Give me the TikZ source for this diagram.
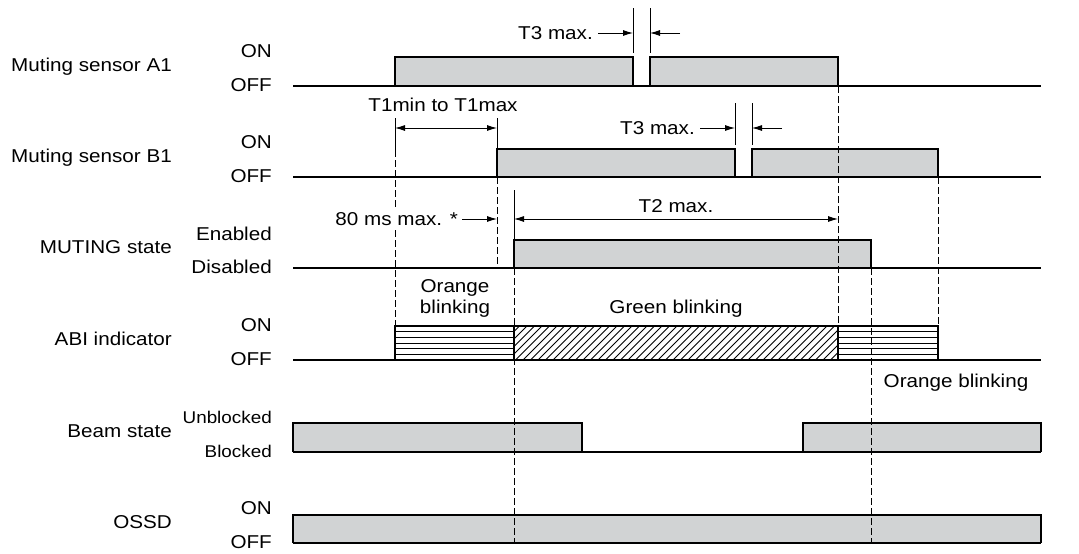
\documentclass[tikz,border=0pt]{standalone}
\usepackage{fontspec}
\setmainfont{Liberation Sans}[FakeStretch=1.11]
\usetikzlibrary{arrows.meta}
\definecolor{sig}{HTML}{D1D3D4}
\begin{document}
\begin{tikzpicture}[x=1pt,y=-1pt,
  pulse/.style={fill=sig,draw=black,line width=1.1pt},
  baseln/.style={line width=2.2pt},
  thin/.style={line width=1pt},
  guide/.style={line width=0.9pt,dash pattern=on 7pt off 3pt},
  dim/.style={line width=0.9pt,-{Latex[length=10pt,width=6pt]}},
  dimboth/.style={line width=0.9pt,{Latex[length=10pt,width=6pt]}-{Latex[length=10pt,width=6pt]}},
  lbl/.style={font=\fontsize{18.6}{21}\selectfont,inner sep=0pt},
  slbl/.style={font=\fontsize{17}{19}\selectfont,inner sep=0pt}]
\useasboundingbox (0,0) rectangle (1079,554);

% ---------- pulses ----------
\draw[pulse] (395,86) |- (633,57) -- (633,86);
\draw[pulse] (650,86) |- (838,57) -- (838,86);
\draw[pulse] (497,177) |- (735,149) -- (735,177);
\draw[pulse] (752,177) |- (938,149) -- (938,177);
\draw[pulse] (514,268) |- (871,240) -- (871,268);
\draw[pulse] (293,452) |- (582,423) -- (582,452);
\draw[pulse] (803,452) |- (1041,423) -- (1041,452);
\draw[pulse] (293,543) |- (1041,515) -- (1041,543);

% ---------- ABI indicator ----------
\begin{scope}
  \clip (514,326) rectangle (838,360);
  \foreach \i in {0,...,49} \draw[line width=0.8pt] (478+\i*7.5,360) -- ++(34,-34);
\end{scope}
\foreach \yy in {331.67,337.33,343,348.67,354.33} {
  \draw[thin] (395,\yy) -- (514,\yy);
  \draw[thin] (838,\yy) -- (938,\yy);
}
\draw[line width=1.1pt] (395,360) |- (938,326) -- (938,360);
\draw[line width=1.1pt] (514,326) -- (514,360) (838,326) -- (838,360);

% ---------- baselines ----------
\foreach \b in {86,177,268,360,452,543} \draw[baseln] (293,\b) -- (1041,\b);

% ---------- guides ----------
\draw[guide] (395,150) -- (395,326);
\draw[guide] (497,177) -- (497,268);
\draw[guide] (514,268) -- (514,543);
\draw[guide] (838,86) -- (838,326);
\draw[guide] (871,268) -- (871,543);
\draw[guide] (938,177) -- (938,326);

% ---------- extension lines ----------
\draw[thin] (633,8) -- (633,53) (650,8) -- (650,53);
\draw[thin] (735,103) -- (735,145) (752,103) -- (752,145);
\draw[thin] (395,118) -- (395,150) (497,118) -- (497,149);
\draw[thin] (514,190) -- (514,240);

% ---------- dimension arrows ----------
\coordinate (a3l) at (633,33); \coordinate (a3r) at (650,33);
\coordinate (b3l) at (735,128); \coordinate (b3r) at (752,128);
\coordinate (t1l) at (395,128); \coordinate (t1r) at (497,128);
\coordinate (ms) at (497,219);
\coordinate (t2l) at (514,219); \coordinate (t2r) at (838,219);
\draw[dim] (598,33) -- (a3l);
\draw[dim] (680,33) -- (a3r);
\draw[dim] (700,128) -- (b3l);
\draw[dim] (782,128) -- (b3r);
\draw[dimboth] (t1l) -- (t1r);
\draw[dim] (462,219) -- (ms);
\draw[dimboth] (t2l) -- (t2r);

% ---------- labels ----------
\node[lbl,anchor=base east] (nA1) at (172,71) {Muting sensor A1};
\node[lbl,anchor=base east] (nB1) at (172,162) {Muting sensor B1};
\node[lbl,anchor=base east] (nMS) at (172,253) {MUTING state};
\node[lbl,anchor=base east] (nABI) at (172,345) {ABI indicator};
\node[lbl,anchor=base east] (nBS) at (172,437) {Beam state};
\node[lbl,anchor=base east] (nOS) at (172,528) {OSSD};

\node[lbl,anchor=base east] (a1on) at (272,57) {ON};
\node[lbl,anchor=base east] (a1off) at (272,91) {OFF};
\node[lbl,anchor=base east] (b1on) at (272,148) {ON};
\node[lbl,anchor=base east] (b1off) at (272,182) {OFF};
\node[lbl,anchor=base east] (msen) at (272,240) {Enabled};
\node[lbl,anchor=base east] (msdis) at (272,273) {Disabled};
\node[lbl,anchor=base east] (abon) at (272,331) {ON};
\node[lbl,anchor=base east] (aboff) at (272,365) {OFF};
\node[slbl,anchor=base east] (bsun) at (272,423) {Unblocked};
\node[slbl,anchor=base east] (bsbl) at (272,457) {Blocked};
\node[lbl,anchor=base east] (oson) at (272,514) {ON};
\node[lbl,anchor=base east] (osoff) at (272,548) {OFF};

\node[lbl,anchor=base east] (t3a) at (593,39.5) {T3 max.};
\node[lbl,anchor=base east] (t3b) at (695,134.5) {T3 max.};
\node[lbl,anchor=base] (t1) at (443,111) {T1min to T1max};
\node[lbl,anchor=base east,fill=white,inner ysep=3pt] (t80) at (458,225.5) {80 ms max. *};
\node[lbl,anchor=base] (t2) at (676,212) {T2 max.};
\node[lbl,anchor=base] (or1) at (455,292) {Orange};
\node[lbl,anchor=base] (or2) at (455,313) {blinking};
\node[lbl,anchor=base] (gr) at (676,313) {Green blinking};
\node[lbl,anchor=base] (or3) at (956,387) {Orange blinking};
\end{tikzpicture}
\end{document}
